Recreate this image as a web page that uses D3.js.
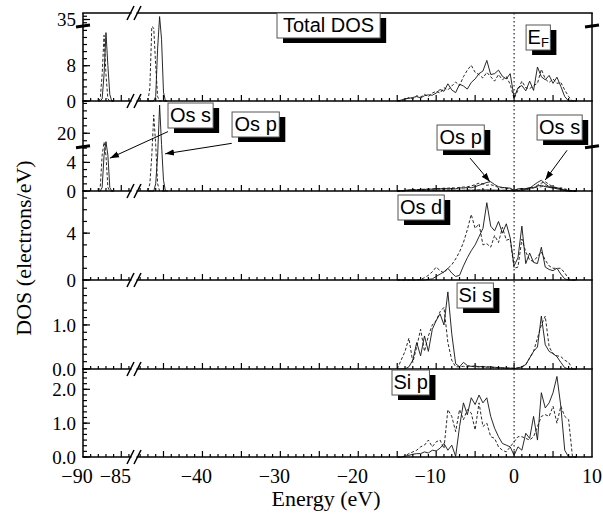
<!DOCTYPE html>
<html>
<head>
<meta charset="utf-8">
<script src="https://cdn.jsdelivr.net/npm/d3@7"></script>
<style>
  body { margin: 0; background: #fff; }
</style>
</head>
<body>
<svg id="chart" width="603" height="514"></svg>
<script>
// energy grid of the valence region (eV), step 0.5
var energy = d3.range(-15, 8.001, 0.5);

// semicore grids (eV)
var coreSEnergy = [-88, -87.75, -87.5, -87.25, -87, -86.75, -86.5, -86.25, -86];
var corePEnergy = [-47, -46.75, -46.5, -46.25, -46, -45.75, -45.5, -45.25, -45, -44.75, -44.5];

// Total DOS
var totalSolid  = [0,0.2,0.5,0.6,0.8,1.0,0.7,1.2,1.4,1.3,1.8,2.6,2.2,3.9,2.5,1.9,3.8,3.4,2.7,4.2,5.0,6.2,6.8,9.2,6.0,6.2,7.0,5.6,5.0,6.2,0.8,3.0,3.5,2.3,4.5,2.4,7.7,5.5,4.8,5.8,4.0,5.4,3.3,1.0,0,0,0];
var totalDashed = [0,0,0.3,0.8,0.5,1.2,0.9,1.5,1.0,1.8,2.2,1.8,3.0,2.5,3.4,4.3,3.5,5.5,7.0,8.1,6.5,6.0,5.2,6.5,5.5,4.5,6.0,4.8,5.5,3.8,0.5,2.5,4.5,3.0,2.8,3.5,4.0,7.2,5.0,4.2,5.0,4.0,4.2,2.5,1.0,0,0];
var totalCoreSSolid  = [0,0,0.5,6,15.5,8,1.5,0,0];
var totalCoreSDashed = [0,0.5,6,14.9,6,0.5,0,0,0];
var totalCorePSolid  = [0,0,0,0,1,12,35.9,14,2,0,0];
var totalCorePDashed = [0,3,16.9,16.5,8,1,0,0,0,0,0];

// Os s / Os p
var osSSolid  = [0,0.02,0.05,0.08,0.1,0.08,0.1,0.12,0.1,0.12,0.15,0.12,0.1,0.12,0.1,0.08,0.1,0.08,0.1,0.1,0.12,0.15,0.12,0.15,0.1,0.12,0.1,0.08,0.1,0.08,0.02,0.1,0.15,0.2,0.4,0.8,1.2,1.5,1.0,0.6,0.5,0.3,0.2,0.05,0,0,0];
var osSDashed = [0,0,0.03,0.05,0.08,0.1,0.08,0.1,0.12,0.1,0.1,0.12,0.15,0.1,0.12,0.1,0.08,0.1,0.12,0.1,0.1,0.12,0.1,0.12,0.1,0.08,0.1,0.1,0.08,0.06,0.03,0.05,0.1,0.15,0.3,0.5,0.8,1.1,1.3,0.9,0.6,0.45,0.3,0.2,0.1,0,0];
var osPSolid  = [0,0.05,0.1,0.15,0.2,0.15,0.25,0.2,0.3,0.25,0.35,0.3,0.4,0.3,0.35,0.3,0.45,0.4,0.5,0.45,0.6,0.8,1.0,1.2,1.3,0.9,0.6,0.5,0.45,0.4,0.1,0.3,0.35,0.3,0.5,0.4,0.7,0.8,0.6,0.5,0.4,0.45,0.3,0.1,0,0,0];
var osPDashed = [0,0,0.05,0.1,0.15,0.2,0.2,0.25,0.2,0.3,0.3,0.35,0.3,0.4,0.45,0.4,0.5,0.55,0.6,0.7,0.9,1.1,1.0,0.8,0.9,0.7,0.5,0.45,0.4,0.3,0.1,0.2,0.3,0.35,0.4,0.5,0.55,0.6,0.7,0.6,0.5,0.4,0.45,0.3,0.15,0,0];
var osCoreSSolid  = [0,0,0.5,5,15.5,5,0.5,0,0];
var osCoreSDashed = [0,0.5,5,15.3,5,0.5,0,0,0];
var osCorePSolid  = [0,0,0,0,1,5,35.1,14,1.5,0,0];
var osCorePDashed = [0,1,5,29.8,14,1,0,0,0,0,0];

// Os d
var osDSolid  = [0,0,0,0,0,0,0,0,0.05,0.1,0.3,0.5,0.7,1.0,0.6,0.3,0.4,1.2,1.9,2.5,3.0,3.7,4.4,6.6,4.6,4.2,5.0,4.0,4.8,3.6,1.2,1.9,4.6,1.4,2.3,1.5,1.4,2.8,1.1,0.9,0.8,1.0,0.5,0.1,0,0,0];
var osDDashed = [0,0,0,0,0,0,0.05,0.2,0.4,0.7,1.1,0.8,0.6,1.0,1.3,1.8,2.4,3.2,4.3,5.6,4.4,4.8,3.0,3.1,2.8,3.8,3.2,4.5,3.4,3.5,1.0,1.1,3.5,2.4,1.7,1.6,2.0,2.4,1.7,1.2,1.0,1.0,1.0,0.6,0.1,0,0];

// Si s
var siSSolid  = [0,0,0,0.05,0.2,0.6,0.3,0.75,0.4,0.9,1.1,1.25,1.0,1.75,0.8,0.12,0.05,0.15,0.08,0.06,0.07,0.05,0.06,0.04,0.05,0.04,0.03,0.03,0.02,0.02,0.01,0.02,0.05,0.1,0.25,0.4,0.5,1.2,0.55,0.4,0.35,0.28,0.15,0.03,0,0,0];
var siSDashed = [0,0.2,0.4,0.7,0.15,0.5,0.9,0.4,0.75,1.0,1.1,1.3,1.4,0.6,0.2,0.05,0.05,0.06,0.05,0.06,0.05,0.05,0.04,0.05,0.04,0.03,0.03,0.02,0.02,0.02,0.02,0.03,0.05,0.1,0.25,0.4,0.7,1.0,1.2,0.5,0.35,0.3,0.28,0.2,0.15,0,0];

// Si p
var siPSolid  = [0,0,0.02,0.05,0.08,0.1,0.1,0.15,0.12,0.2,0.18,0.26,0.4,0.2,0.35,0.02,0.9,1.6,1.25,1.75,1.55,1.83,1.6,1.75,1.2,0.85,0.6,0.4,0.35,0.3,0.05,0.3,0.2,0.7,0.55,1.2,0.5,1.9,1.45,1.6,1.9,2.38,1.5,0.2,0,0,0];
var siPDashed = [0,0,0.03,0.1,0.15,0.2,0.3,0.35,0.5,0.3,0.45,0.5,0.25,1.4,1.2,0.75,1.4,1.1,1.4,1.3,0.8,1.6,0.9,1.0,0.6,0.55,0.3,0.2,0.15,0.3,0.45,0.6,0.6,0.55,0.5,0.6,0.9,1.2,1.25,1.2,1.5,1.0,1.5,1.2,1.1,0,0];

// axis tick labels
var xTickLabels = [-90, -85, -40, -30, -20, -10, 0, 10];

var svg = d3.select("#chart");
var serif = "'Liberation Serif', 'Times New Roman', serif";
var sans = "'Liberation Sans', Arial, sans-serif";

var x = d3.scaleLinear()
    .domain([-90, -83.6, -48.4, 10])
    .range([83, 132, 137, 592]);

var left = 83, right = 592;
var breakX = [130.5, 137.5];

var panels = [
  { top: 13, bottom: 101, domain: [0, 17, 33, 37], brk: 26,
    minor: d3.range(0, 16.5, 1.6).concat([34, 35, 36]), major: [0, 8, 35], fmt: d3.format("d"),
    series: [[energy, totalSolid, 0], [energy, totalDashed, 1],
             [coreSEnergy, totalCoreSSolid, 0], [coreSEnergy, totalCoreSDashed, 1],
             [corePEnergy, totalCorePSolid, 0], [corePEnergy, totalCorePDashed, 1]] },
  { top: 101, bottom: 191, domain: [0, 6.2, 12.8, 37.3], brk: 146.7,
    minor: d3.range(0, 6.1, 1).concat(d3.range(16, 37, 4)), major: [0, 4, 20], fmt: d3.format("d"),
    series: [[energy, osSSolid, 0], [energy, osSDashed, 1], [energy, osPSolid, 0], [energy, osPDashed, 1],
             [coreSEnergy, osCoreSSolid, 0], [coreSEnergy, osCoreSDashed, 1],
             [corePEnergy, osCorePSolid, 0], [corePEnergy, osCorePDashed, 1]] },
  { top: 191, bottom: 280, domain: [0, 7.6],
    minor: d3.range(0, 7.6, 1), major: [0, 4], fmt: d3.format("d"),
    series: [[energy, osDSolid, 0], [energy, osDDashed, 1]] },
  { top: 280, bottom: 369, domain: [0, 2.02],
    minor: d3.range(0, 2.0, 1 / 6), major: [0, 1], fmt: d3.format(".1f"),
    series: [[energy, siSSolid, 0], [energy, siSDashed, 1]] },
  { top: 369, bottom: 457, domain: [0, 2.6],
    minor: d3.range(0, 2.6, 1 / 6), major: [0, 1, 2], fmt: d3.format(".1f"),
    series: [[energy, siPSolid, 0], [energy, siPDashed, 1]] }
];

var xMinor = d3.range(-89, -83.5, 1).concat(d3.range(-48, 9.5, 1));

panels.forEach(function(p) {
  var range = p.domain.length === 4 ? [p.bottom, p.brk, p.brk, p.top] : [p.bottom, p.top];
  p.y = d3.scaleLinear().domain(p.domain).range(range).clamp(true);
  var y = p.y;
  var g = svg.append("g");

  var line = d3.line()
      .x(function(d) { return x(d[0]); })
      .y(function(d) { return y(d[1]); });

  p.series.forEach(function(s) {
    g.append("path")
      .datum(d3.zip(s[0], s[1]))
      .attr("d", line)
      .attr("fill", "none")
      .attr("stroke", "#111")
      .attr("stroke-width", 0.9)
      .attr("stroke-dasharray", s[2] ? "3,2" : null);
  });

  // bottom ticks
  g.selectAll(".xt").data(xMinor).enter().append("line")
    .attr("x1", function(d) { return x(d); })
    .attr("x2", function(d) { return x(d); })
    .attr("y1", p.bottom)
    .attr("y2", function(d) { return p.bottom - (d % 5 === 0 ? 6 : 3); })
    .attr("stroke", "#000").attr("stroke-width", 1.2);

  // left ticks
  g.selectAll(".ym").data(p.minor).enter().append("line")
    .attr("x1", left).attr("x2", left + 4)
    .attr("y1", function(d) { return y(d); })
    .attr("y2", function(d) { return y(d); })
    .attr("stroke", "#000").attr("stroke-width", 1.2);
  g.selectAll(".yM").data(p.major).enter().append("line")
    .attr("x1", left).attr("x2", left + 7)
    .attr("y1", function(d) { return y(d); })
    .attr("y2", function(d) { return y(d); })
    .attr("stroke", "#000").attr("stroke-width", 1.2);
  g.selectAll(".yl").data(p.major).enter().append("text")
    .attr("x", 76)
    .attr("y", function(d) { return y(d); })
    .attr("dy", "0.35em")
    .attr("text-anchor", "end")
    .style("font-family", serif).style("font-size", "19px")
    .text(function(d) { return p.fmt(d); });

  // frame: sides
  g.append("line").attr("x1", left).attr("x2", left).attr("y1", p.top).attr("y2", p.bottom)
    .attr("stroke", "#000").attr("stroke-width", 1.5);
  g.append("line").attr("x1", right).attr("x2", right).attr("y1", p.top).attr("y2", p.bottom)
    .attr("stroke", "#000").attr("stroke-width", 1.5);

  // horizontal axis lines (bottom, and top for the first panel), broken at the x break
  var hs = [p.bottom];
  if (p.top === 13) hs.push(p.top);
  hs.forEach(function(h) {
    g.append("line").attr("x1", left - 0.75).attr("x2", breakX[0] + 1).attr("y1", h).attr("y2", h)
      .attr("stroke", "#000").attr("stroke-width", 1.5);
    g.append("line").attr("x1", breakX[1] - 1).attr("x2", right + 0.75).attr("y1", h).attr("y2", h)
      .attr("stroke", "#000").attr("stroke-width", 1.5);
    breakX.forEach(function(bx) {
      g.append("line")
        .attr("x1", bx - 3.5).attr("y1", h + 7)
        .attr("x2", bx + 3.5).attr("y2", h - 7)
        .attr("stroke", "#000").attr("stroke-width", 1.5);
    });
  });

  // y-axis break marks
  if (p.brk) {
    [left, right].forEach(function(ax) {
      g.append("line")
        .attr("x1", ax - 7).attr("y1", p.brk + 1)
        .attr("x2", ax + 7).attr("y2", p.brk - 1)
        .attr("stroke", "#000").attr("stroke-width", 3);
    });
  }
});

// Fermi level
svg.append("line")
  .attr("x1", x(0)).attr("x2", x(0))
  .attr("y1", 13).attr("y2", 457)
  .attr("stroke", "#222").attr("stroke-width", 1.2)
  .attr("stroke-dasharray", "1.5,2.5");

// x tick labels
svg.selectAll(".xl").data(xTickLabels).enter().append("text")
  .attr("x", function(d) { return x(d) - (d < 0 ? 6 : 0); })
  .attr("y", 483)
  .attr("text-anchor", "middle")
  .style("font-family", serif).style("font-size", "20px")
  .text(function(d) { return d < 0 ? "\u2212" + Math.abs(d) : d; });

// axis titles
svg.append("text")
  .attr("x", 326).attr("y", 506)
  .attr("text-anchor", "middle")
  .style("font-family", serif).style("font-size", "22px")
  .text("Energy (eV)");
svg.append("text")
  .attr("transform", "translate(31,248) rotate(-90)")
  .attr("text-anchor", "middle")
  .style("font-family", serif).style("font-size", "22px")
  .text("DOS (electrons/eV)");

// labelled boxes with drop shadows
var boxes = [
  { panel: 0, text: "Total DOS", e: -30.43, dy: 0, pad: 6 },
  { panel: 0, text: "E", sub: "F", e: 1.54, dy: 12, pad: 1.5 },
  { panel: 1, text: "Os s", e: -44.42, dy: 2, pad: 2 },
  { panel: 1, text: "Os p", e: -36.2, dy: 11, pad: 2.5 },
  { panel: 1, text: "Os p", e: -9.89, dy: 24, pad: 2.5 },
  { panel: 1, text: "Os s", e: 2.95, dy: 14, pad: 2 },
  { panel: 2, text: "Os d", e: -14.9, dy: 4, pad: 2 },
  { panel: 3, text: "Si s", e: -7.32, dy: 3, pad: 1.5 },
  { panel: 4, text: "Si p", e: -15.67, dy: 1, pad: 1.5 }
];

boxes.forEach(function(b) {
  var g = svg.append("g");
  var bx = x(b.e), by = panels[b.panel].top + b.dy;
  var shadow = g.append("rect").attr("fill", "#000");
  var box = g.append("rect").attr("fill", "#fff").attr("stroke", "#555").attr("stroke-width", 1);
  var t = g.append("text")
    .attr("y", by + 19)
    .style("font-family", sans).style("font-size", "20px");
  t.append("tspan").text(b.text);
  if (b.sub) t.append("tspan").attr("dy", 3).style("font-size", "13px").text(b.sub);
  var w = t.node().getComputedTextLength() + 2 * b.pad;
  t.attr("x", bx + b.pad);
  box.attr("x", bx).attr("y", by).attr("width", w).attr("height", 25);
  shadow.attr("x", bx + 6).attr("y", by + 5).attr("width", w).attr("height", 25);
});

// arrows in the Os s / Os p panel: [E start, value start, E end, value end]
var arrows = [
  [-44.42, 20.9, -86.48, 4.6],
  [-36.24, 14.6, -44.8, 5.2],
  [-5.65, 4.6, -3.1, 1.3],
  [6.8, 5.7, 4.0, 1.55]
];

svg.append("defs").append("marker")
  .attr("id", "arrow")
  .attr("viewBox", "0 0 10 10")
  .attr("refX", 10).attr("refY", 5)
  .attr("markerWidth", 9).attr("markerHeight", 9)
  .attr("markerUnits", "userSpaceOnUse")
  .attr("orient", "auto")
  .append("path").attr("d", "M0,1.5L10,5L0,8.5Z").attr("fill", "#000");

var y2 = panels[1].y;
svg.selectAll(".arrow").data(arrows).enter().append("line")
  .attr("x1", function(d) { return x(d[0]); })
  .attr("y1", function(d) { return y2(d[1]); })
  .attr("x2", function(d) { return x(d[2]); })
  .attr("y2", function(d) { return y2(d[3]); })
  .attr("stroke", "#000").attr("stroke-width", 1)
  .attr("marker-end", "url(#arrow)");
</script>
</body>
</html>
